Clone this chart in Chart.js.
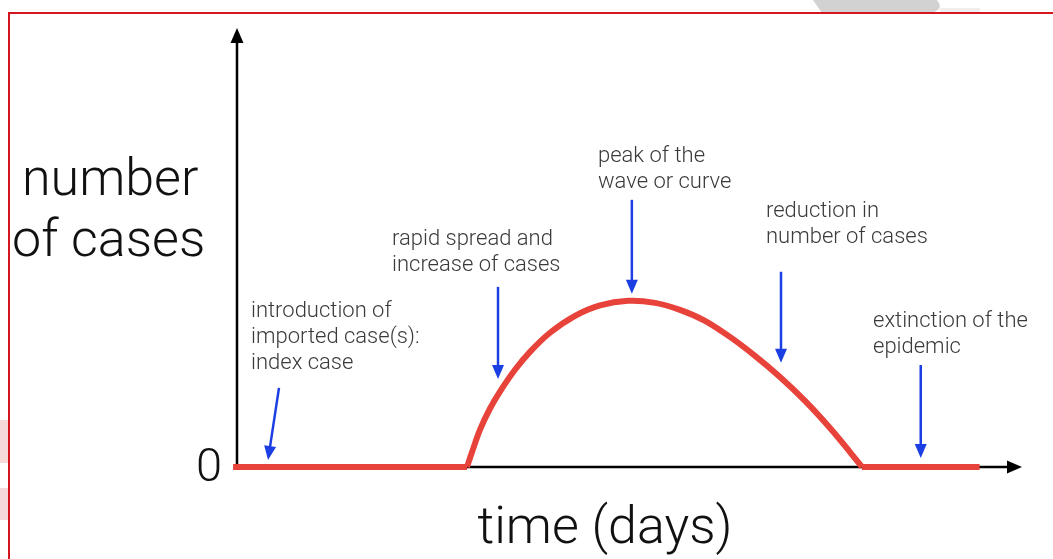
<!DOCTYPE html>
<html>
<head>
<meta charset="utf-8">
<script src="https://cdn.jsdelivr.net/npm/chart.js@4/dist/chart.umd.min.js"></script>
<style>
  html, body { margin: 0; padding: 0; background: #fff; }
  #wrap { position: relative; width: 1053px; height: 559px; }
</style>
</head>
<body>
<div id="wrap"><canvas id="epiChart" width="1053" height="559"></canvas></div>
<script>
// --- data (x = days, y = cases; peak normalised to 100) ---
const flatBeforeX = [-0.5, 29.3];
const flatBeforeY = [0, 0];
const waveX = [29.30, 29.94, 30.96, 32.23, 33.50, 35.41, 37.32, 39.87, 43.06, 46.24, 49.81,
               53.25, 56.43, 59.62, 62.80, 65.99, 69.17, 72.36, 75.54, 78.09, 79.62];
const waveY = [0, 9.0, 22.5, 35.2, 45.4, 58.5, 69.3, 80.8, 91.0, 97.3, 100,
               98.8, 94.6, 88.0, 78.3, 66.9, 54.2, 39.8, 23.5, 9.0, 0];
const flatAfterX = [79.6, 94.6];
const flatAfterY = [0, 0];

const yTickLabels = ['0'];
const xAxisTitle = 'time (days)';
const yAxisTitle = ['number', 'of cases'];

// annotation labels (one entry per stage)
const stageLabels = [
    ['introduction of', 'imported case(s):', 'index case'],
    ['rapid spread and', 'increase of cases'],
    ['peak of the', 'wave or curve'],
    ['reduction in', 'number of cases'],
    ['extinction of the', 'epidemic']
];
// arrow tail / tip in data units (x days, y cases)
const arrowTailX = [5.35, 33.25, 50.3, 69.3, 87.1];
const arrowTailY = [47.6, 108.4, 160.8, 117.5, 61.4];
const arrowTipX = [3.95, 33.25, 50.3, 69.3, 87.1];
const arrowTipY = [4.2, 53.0, 104.2, 62.7, 5.4];

// label anchors in pixels (left x, first baseline)
const labelPos = [
    { x: 251, y: 317 },
    { x: 392, y: 245 },
    { x: 598, y: 162 },
    { x: 766, y: 217 },
    { x: 873, y: 327 }
];

const FONT = '"Helvetica Neue", Roboto, "Liberation Sans", sans-serif';
const RED = '#e8433a';
const BLUE = '#1c3fe3';

function toPoints(xs, ys) {
    return xs.map((x, i) => ({ x: x, y: ys[i] }));
}

function drawArrowHead(ctx, x1, y1, x2, y2, len, half) {
    const ang = Math.atan2(y2 - y1, x2 - x1);
    ctx.beginPath();
    ctx.moveTo(x2, y2);
    ctx.lineTo(x2 - len * Math.cos(ang) + half * Math.sin(ang), y2 - len * Math.sin(ang) - half * Math.cos(ang));
    ctx.lineTo(x2 - len * Math.cos(ang) - half * Math.sin(ang), y2 - len * Math.sin(ang) + half * Math.cos(ang));
    ctx.closePath();
    ctx.fill();
}

const sketchPlugin = {
    id: 'sketch',
    beforeDraw(chart) {
        const ctx = chart.ctx;
        ctx.save();
        ctx.fillStyle = '#fff';
        ctx.fillRect(0, 0, chart.width, chart.height);
        // faint decorations from the slide
        ctx.fillStyle = '#d2d2d2';
        ctx.beginPath();
        ctx.moveTo(813, 0); ctx.lineTo(937, 0); ctx.quadraticCurveTo(945, 10, 930, 13); ctx.lineTo(822, 13);
        ctx.closePath(); ctx.fill();
        ctx.fillStyle = '#eeeeee';
        ctx.fillRect(940, 8, 40, 5);
        ctx.fillStyle = '#f6dada';
        ctx.fillRect(0, 420, 8, 43);
        ctx.fillRect(0, 488, 8, 32);
        // red frame
        ctx.strokeStyle = '#d4171d';
        ctx.lineWidth = 2;
        ctx.beginPath();
        ctx.moveTo(1053, 13); ctx.lineTo(9, 13); ctx.lineTo(9, 559);
        ctx.stroke();
        ctx.restore();
    },
    beforeDatasetsDraw(chart) {
        const ctx = chart.ctx;
        const xs = chart.scales.x, ys = chart.scales.y;
        const ox = xs.getPixelForValue(0), oy = ys.getPixelForValue(0);
        const top = chart.chartArea.top, right = chart.chartArea.right;
        ctx.save();
        ctx.strokeStyle = '#000';
        ctx.fillStyle = '#000';
        ctx.lineWidth = 2.5;
        ctx.beginPath();
        ctx.moveTo(ox, oy); ctx.lineTo(ox, top + 10);
        ctx.moveTo(ox - 1, oy); ctx.lineTo(right - 10, oy);
        ctx.stroke();
        drawArrowHead(ctx, ox, oy, ox, top - 2, 15, 6.5);
        drawArrowHead(ctx, ox, oy, right, oy, 15, 6.5);
        ctx.restore();
    },
    afterDraw(chart) {
        const ctx = chart.ctx;
        const xs = chart.scales.x, ys = chart.scales.y;
        ctx.save();
        // axis titles and tick
        ctx.fillStyle = '#111';
        ctx.textBaseline = 'alphabetic';
        ctx.font = '300 52px ' + FONT;
        ctx.textAlign = 'left';
        ctx.fillText(yAxisTitle[0], 22, 195);
        ctx.fillText(yAxisTitle[1], 12, 256);
        ctx.textAlign = 'center';
        ctx.fillText(xAxisTitle, 605, 543);
        ctx.font = '300 47px ' + FONT;
        ctx.textAlign = 'center';
        ctx.textBaseline = 'middle';
        ctx.fillText(yTickLabels[0], 209, ys.getPixelForValue(0) + 2);

        // stage labels
        ctx.fillStyle = '#3a3a3a';
        ctx.font = '300 22px ' + FONT;
        ctx.textAlign = 'left';
        ctx.textBaseline = 'alphabetic';
        stageLabels.forEach((lines, i) => {
            lines.forEach((t, j) => ctx.fillText(t, labelPos[i].x, labelPos[i].y + j * 26));
        });

        // blue arrows
        ctx.strokeStyle = BLUE;
        ctx.fillStyle = BLUE;
        ctx.lineWidth = 2.5;
        arrowTailX.forEach((tx, i) => {
            const x1 = xs.getPixelForValue(tx), y1 = ys.getPixelForValue(arrowTailY[i]);
            const x2 = xs.getPixelForValue(arrowTipX[i]), y2 = ys.getPixelForValue(arrowTipY[i]);
            const ang = Math.atan2(y2 - y1, x2 - x1);
            ctx.beginPath();
            ctx.moveTo(x1, y1);
            ctx.lineTo(x2 - 10 * Math.cos(ang), y2 - 10 * Math.sin(ang));
            ctx.stroke();
            drawArrowHead(ctx, x1, y1, x2, y2, 14, 6);
        });
        ctx.restore();
    }
};

const lineStyle = {
    borderColor: RED,
    borderWidth: 6,
    pointRadius: 0,
    fill: false,
    clip: false,
    borderCapStyle: 'butt',
    borderJoinStyle: 'round'
};

new Chart(document.getElementById('epiChart'), {
    type: 'line',
    data: {
        datasets: [
            Object.assign({ label: 'before', data: toPoints(flatBeforeX, flatBeforeY) }, lineStyle),
            Object.assign({ label: 'wave', data: toPoints(waveX, waveY), tension: 0.35 }, lineStyle),
            Object.assign({ label: 'after', data: toPoints(flatAfterX, flatAfterY) }, lineStyle)
        ]
    },
    options: {
        responsive: false,
        animation: false,
        events: [],
        layout: { padding: { left: 237, top: 30, right: 31, bottom: 92 } },
        plugins: { legend: { display: false }, tooltip: { enabled: false } },
        scales: {
            x: { type: 'linear', min: 0, max: 100, display: false },
            y: { type: 'linear', min: 0, max: 263, display: false }
        }
    },
    plugins: [sketchPlugin]
});
</script>
</body>
</html>
